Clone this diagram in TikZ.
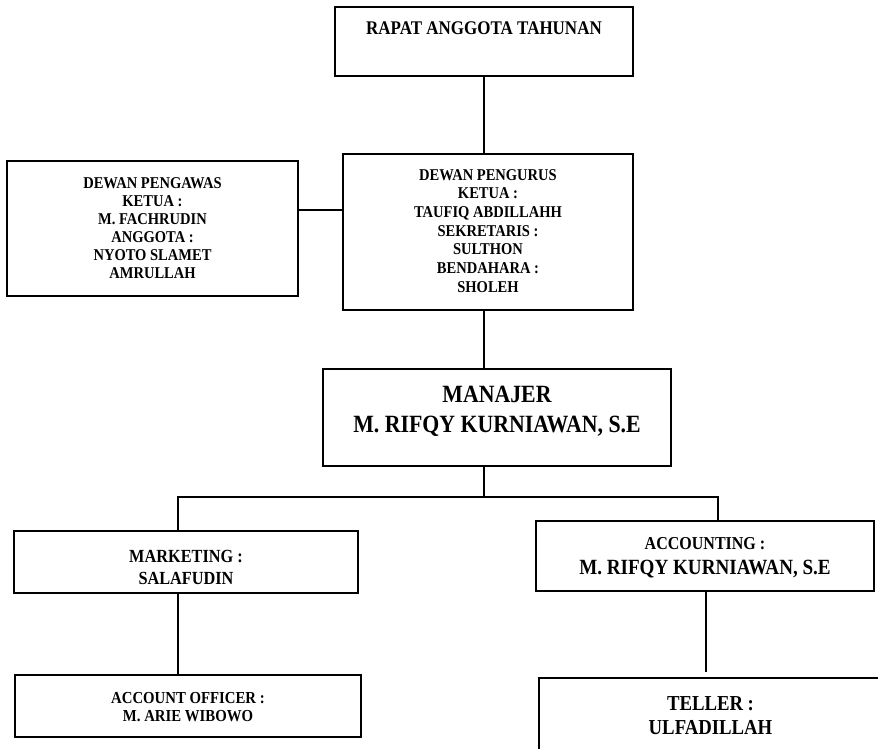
\documentclass[tikz,border=0pt]{standalone}
\usepackage{fontspec}
\setmainfont{Liberation Serif}[FakeStretch=0.88]

\newcommand{\boxfont}[2]{\fontsize{#1pt}{#2pt}\selectfont\bfseries}

\begin{document}
\begin{tikzpicture}[x=1pt,y=-1pt]
  \tikzstyle{orgbox}=[draw=black,line width=1.6pt,anchor=north,align=center,inner sep=0pt]
  \tikzstyle{wire}=[line width=1.6pt]
  \useasboundingbox (0,0) rectangle (878,749);

  % top level
  \node[orgbox,minimum width=298pt,text height=28.2pt,text depth=40.8pt,font=\boxfont{19.3}{22}](rapat) at (484,6) {RAPAT ANGGOTA TAHUNAN};
  \node[orgbox,minimum width=291pt,text height=117.4pt,text depth=17.6pt,font=\boxfont{16.5}{18}](pengawas) at (152.5,160)
    {DEWAN PENGAWAS\\KETUA :\\M. FACHRUDIN\\ANGGOTA :\\NYOTO SLAMET\\AMRULLAH};
  \node[orgbox,minimum width=290pt,text height=138.4pt,text depth=17.6pt,font=\boxfont{16.5}{18.7}](pengurus) at (488,153)
    {DEWAN PENGURUS\\KETUA :\\TAUFIQ ABDILLAHH\\SEKRETARIS :\\SULTHON\\BENDAHARA :\\SHOLEH};
  \node[orgbox,minimum width=348pt,text height=64pt,text depth=33pt,font=\boxfont{24.8}{30}](manajer) at (497,368)
    {MANAJER\\M. RIFQY KURNIAWAN, S.E};

  % staff
  \node[orgbox,minimum width=344pt,text height=53.2pt,text depth=8.8pt,font=\boxfont{18.5}{22}](marketing) at (186,530)
    {MARKETING :\\SALAFUDIN};
  \node[orgbox,minimum width=338pt,text height=54.1pt,text depth=15.9pt,font=\boxfont{18.2}{25}](accounting) at (705,520)
    {ACCOUNTING :\\{\boxfont{21.7}{25}M. RIFQY KURNIAWAN, S.E}};
  \node[orgbox,minimum width=346pt,text height=46.6pt,text depth=15.4pt,font=\boxfont{16.8}{18}](officer) at (188,674)
    {ACCOUNT OFFICER :\\M. ARIE WIBOWO};
  \node[orgbox,minimum width=343pt,text height=57pt,text depth=36pt,font=\boxfont{21.3}{24}](teller) at (710.5,677)
    {TELLER :\\ULFADILLAH};

  \coordinate (busM) at (484,497);
  \coordinate (busL) at (178,497);
  \coordinate (busR) at (718,497);
  \coordinate (sideY) at (0,210);
  \coordinate (tellerEnd) at (706,672);

  \draw[wire] (rapat.south) -- (rapat.south |- pengurus.north);
  \draw[wire] (pengawas.east |- sideY) -- (pengurus.west |- sideY);
  \draw[wire] (busM |- pengurus.south) -- (busM |- manajer.north);
  \draw[wire] (busM |- manajer.south) -- (busM);
  \draw[wire] (busL |- marketing.north) -- (busL) -- (busR) -- (busR |- accounting.north);
  \draw[wire] (busL |- marketing.south) -- (busL |- officer.north);
  \draw[wire] (tellerEnd |- accounting.south) -- (tellerEnd);
\end{tikzpicture}
\end{document}
